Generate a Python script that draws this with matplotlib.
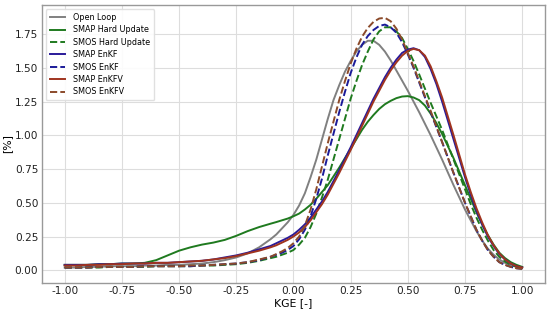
import matplotlib
matplotlib.use("Agg")
import matplotlib.pyplot as plt
from matplotlib.ticker import FormatStrFormatter

kge = [-1.00, -0.95, -0.90, -0.85, -0.80, -0.75, -0.70, -0.65, -0.60, -0.55,
       -0.50, -0.45, -0.40, -0.35, -0.30, -0.25, -0.20, -0.15,
       -0.100, -0.075, -0.050, -0.025, 0.000, 0.025, 0.050, 0.075, 0.100,
       0.125, 0.150, 0.175, 0.200, 0.225, 0.250, 0.275, 0.300, 0.325, 0.350,
       0.375, 0.400, 0.425, 0.450, 0.475, 0.500, 0.525, 0.550, 0.575, 0.600,
       0.625, 0.650, 0.675, 0.700, 0.725, 0.750, 0.775, 0.800, 0.825, 0.850,
       0.875, 0.900, 0.925, 0.950, 0.975, 1.000]

open_loop = [0.02, 0.02, 0.025, 0.025, 0.03, 0.03, 0.03, 0.035, 0.035, 0.04,
             0.04, 0.045, 0.05, 0.06, 0.075, 0.095, 0.125, 0.17,
             0.23, 0.265, 0.31, 0.355, 0.41, 0.48, 0.57, 0.69, 0.82,
             0.97, 1.12, 1.26, 1.37, 1.47, 1.55, 1.62, 1.67, 1.70, 1.70,
             1.67, 1.62, 1.555, 1.48, 1.405, 1.33, 1.25, 1.17, 1.085, 1.00,
             0.91, 0.82, 0.725, 0.63, 0.54, 0.45, 0.37, 0.29, 0.22, 0.16,
             0.115, 0.08, 0.055, 0.04, 0.03, 0.02]

smap_hu = [0.04, 0.04, 0.04, 0.045, 0.045, 0.05, 0.05, 0.055, 0.075, 0.11,
           0.145, 0.17, 0.19, 0.205, 0.225, 0.255, 0.29, 0.32,
           0.345, 0.357, 0.37, 0.383, 0.40, 0.42, 0.45, 0.485, 0.53,
           0.58, 0.63, 0.695, 0.76, 0.83, 0.90, 0.97, 1.04, 1.10, 1.15,
           1.195, 1.23, 1.255, 1.275, 1.287, 1.29, 1.28, 1.26, 1.22, 1.16,
           1.09, 1.01, 0.92, 0.83, 0.73, 0.63, 0.53, 0.43, 0.34, 0.26,
           0.19, 0.13, 0.09, 0.06, 0.04, 0.025]

smos_hu = [0.02, 0.02, 0.02, 0.02, 0.025, 0.025, 0.025, 0.025, 0.03, 0.03,
           0.03, 0.03, 0.035, 0.035, 0.04, 0.045, 0.055, 0.07,
           0.09, 0.10, 0.115, 0.13, 0.15, 0.19, 0.24, 0.32, 0.42,
           0.54, 0.67, 0.82, 0.97, 1.12, 1.27, 1.40, 1.52, 1.62, 1.71,
           1.77, 1.80, 1.80, 1.77, 1.72, 1.64, 1.55, 1.45, 1.345, 1.24,
           1.14, 1.04, 0.93, 0.82, 0.71, 0.60, 0.49, 0.39, 0.30, 0.22,
           0.15, 0.10, 0.065, 0.04, 0.025, 0.015]

smap_enkf = [0.04, 0.04, 0.04, 0.045, 0.045, 0.05, 0.05, 0.05, 0.055, 0.055,
             0.06, 0.065, 0.07, 0.08, 0.095, 0.11, 0.13, 0.155,
             0.18, 0.20, 0.22, 0.24, 0.265, 0.30, 0.34, 0.39, 0.45,
             0.51, 0.58, 0.66, 0.74, 0.825, 0.91, 1.00, 1.09, 1.18, 1.27,
             1.35, 1.43, 1.50, 1.56, 1.61, 1.635, 1.645, 1.63, 1.58, 1.49,
             1.38, 1.25, 1.11, 0.97, 0.83, 0.69, 0.56, 0.44, 0.34, 0.25,
             0.18, 0.12, 0.08, 0.05, 0.03, 0.02]

smos_enkf = [0.02, 0.02, 0.02, 0.025, 0.025, 0.025, 0.025, 0.03, 0.03, 0.03,
             0.03, 0.03, 0.035, 0.04, 0.045, 0.05, 0.06, 0.075,
             0.10, 0.115, 0.13, 0.15, 0.18, 0.23, 0.30, 0.40, 0.53,
             0.68, 0.85, 1.01, 1.17, 1.32, 1.46, 1.575, 1.67, 1.735, 1.78,
             1.81, 1.82, 1.80, 1.76, 1.69, 1.60, 1.50, 1.39, 1.28, 1.17,
             1.06, 0.95, 0.835, 0.72, 0.61, 0.50, 0.40, 0.30, 0.22, 0.15,
             0.10, 0.06, 0.04, 0.025, 0.015, 0.01]

smap_enkfv = [0.035, 0.035, 0.04, 0.04, 0.045, 0.045, 0.05, 0.05, 0.055, 0.055,
              0.06, 0.065, 0.07, 0.08, 0.09, 0.105, 0.125, 0.145,
              0.17, 0.185, 0.205, 0.225, 0.25, 0.28, 0.32, 0.37, 0.43,
              0.49, 0.56, 0.64, 0.72, 0.805, 0.89, 0.98, 1.07, 1.16, 1.25,
              1.33, 1.41, 1.48, 1.54, 1.59, 1.625, 1.64, 1.63, 1.59, 1.51,
              1.40, 1.28, 1.14, 1.00, 0.855, 0.71, 0.58, 0.46, 0.355, 0.26,
              0.185, 0.125, 0.08, 0.05, 0.03, 0.02]

smos_enkfv = [0.02, 0.02, 0.02, 0.025, 0.025, 0.025, 0.025, 0.03, 0.03, 0.03,
              0.03, 0.035, 0.035, 0.04, 0.045, 0.05, 0.06, 0.08,
              0.10, 0.12, 0.14, 0.165, 0.20, 0.25, 0.33, 0.45, 0.60,
              0.77, 0.94, 1.10, 1.26, 1.40, 1.53, 1.64, 1.73, 1.795, 1.84,
              1.865, 1.87, 1.845, 1.79, 1.71, 1.61, 1.51, 1.40, 1.29, 1.18,
              1.065, 0.95, 0.835, 0.72, 0.61, 0.50, 0.40, 0.30, 0.22, 0.15,
              0.10, 0.06, 0.04, 0.025, 0.015, 0.01]

labels = ["Open Loop", "SMAP Hard Update", "SMOS Hard Update", "SMAP EnKF",
          "SMOS EnKF", "SMAP EnKFV", "SMOS EnKFV"]
x_ticks = [-1.0, -0.75, -0.5, -0.25, 0.0, 0.25, 0.5, 0.75, 1.0]
y_ticks = [0.0, 0.25, 0.5, 0.75, 1.0, 1.25, 1.5, 1.75]

data = [open_loop, smap_hu, smos_hu, smap_enkf, smos_enkf, smap_enkfv, smos_enkfv]
colors = ["#808080", "#1f7a1f", "#1f7a1f", "#2a1a99", "#1a1a99", "#a0341f", "#8b4a2a"]
styles = ["-", "-", "--", "-", "--", "-", "--"]

fig = plt.figure(figsize=(5.5, 3.13), dpi=100)
ax = fig.add_axes([0.076, 0.096, 0.915, 0.888])
for name, vals, col, ls in zip(labels, data, colors, styles):
    ax.plot(kge, vals, color=col, linestyle=ls, linewidth=1.4, label=name)

ax.set_xlim(-1.1, 1.1)
ax.set_ylim(-0.094, 1.965)
ax.set_xticks(x_ticks)
ax.set_yticks(y_ticks)
ax.xaxis.set_major_formatter(FormatStrFormatter("%.2f"))
ax.yaxis.set_major_formatter(FormatStrFormatter("%.2f"))
ax.grid(True, color="#dddddd", linewidth=0.8)
ax.set_axisbelow(True)
for s in ax.spines.values():
    s.set_color("#999999")
    s.set_linewidth(1.0)
ax.tick_params(length=0, labelsize=7.6, labelcolor="#222222")
ax.tick_params(axis="x", pad=2.5)
ax.tick_params(axis="y", pad=2.5)
ax.set_xlabel("KGE [-]", fontsize=7.8, labelpad=1)
ax.set_ylabel("[%]", fontsize=7.8, labelpad=2)
ax.legend(loc="upper left", fontsize=5.8, frameon=True, framealpha=0.9,
          edgecolor="#dddddd", handlelength=1.9, labelspacing=0.42,
          borderpad=0.5, handletextpad=1.0)
fig.savefig("out.png", dpi=100)
